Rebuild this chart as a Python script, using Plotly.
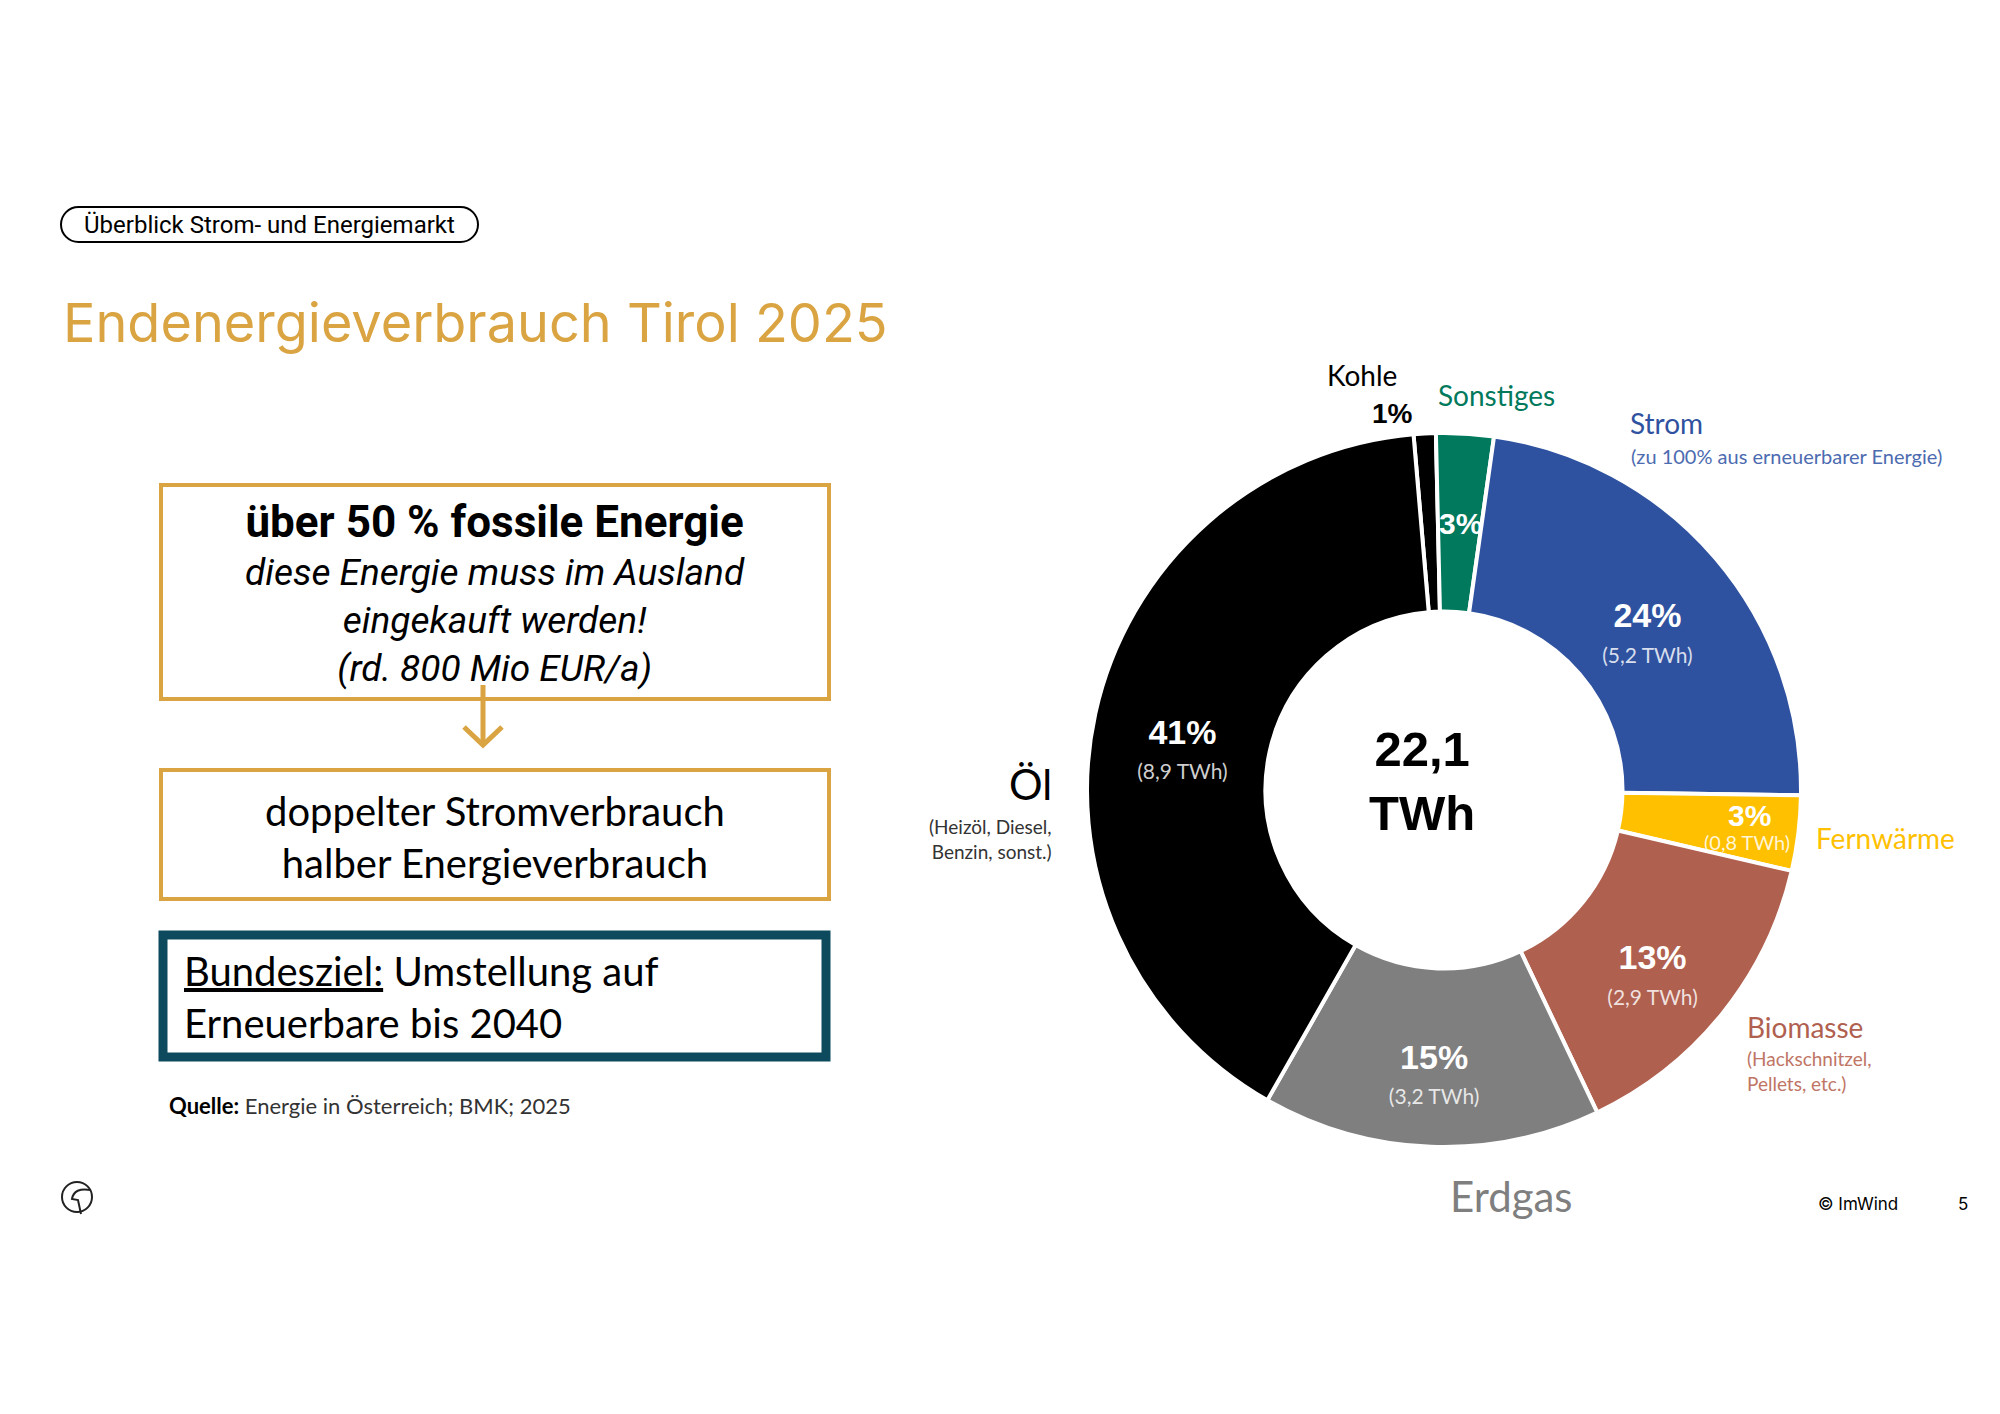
import plotly.graph_objects as go

# Endenergieverbrauch Tirol 2025
labels = ["Kohle", "Sonstiges", "Strom", "Fernwärme", "Biomasse", "Erdgas", "Öl"]
anteil = [1, 3, 24, 3, 13, 15, 41]                      # beschriftete Prozentwerte
segment = [1.0, 2.6, 23.0, 3.4, 14.3, 15.3, 40.4]       # Segmentgrößen wie gezeichnet
twh = [None, None, 5.2, 0.8, 2.9, 3.2, 8.9]
farben = ["#000000", "#00795C", "#2F52A0", "#FFC000", "#B0604F", "#7F7F7F", "#000000"]
gesamt_twh = 22.1

W, H = 2000, 1414
OFF = 8  # Seitenrand des Browsers
GOLD = "#D9A441"
TEAL = "#0D4A5E"


def px(x):
    return (x - OFF) / W


def py(y):
    return 1 - (y - OFF) / H


def de(v):
    return f"{v:.1f}".replace(".", ",")


# Texte in den Segmenten (schmale Segmente bekommen eigene Beschriftung)
# die leere erste Zeile schiebt den Textblock etwas nach unten
schmal = ["Kohle", "Sonstiges", "Fernwärme"]
seg_text = []
for name, p, t in zip(labels, anteil, twh):
    if name in schmal:
        seg_text.append("")
    else:
        seg_text.append(f"<span style='font-size:30px'>&nbsp;</span><br>"
                        f"<span style='font-size:34px'><b>{p}%</b></span><br>"
                        f"<span style='font-size:21px;font-family:Lato;"
                        f"color:rgba(255,255,255,0.82)'>({de(t)} TWh)</span>")

fig = go.Figure()
fig.add_trace(go.Pie(
    labels=labels, values=segment, text=seg_text, textinfo="text",
    textposition="inside", insidetextorientation="horizontal",
    textfont=dict(family="Liberation Sans", size=27, color="white"),
    marker=dict(colors=farben, line=dict(color="white", width=4)),
    hole=0.5, sort=False, direction="clockwise", rotation=-4.9,
    domain=dict(x=[px(1444 - 357), px(1444 + 357)], y=[py(790 + 357), py(790 - 357)]),
    showlegend=False, hoverinfo="label",
))

ann = []


def txt(x, y, s, size, color="black", family="Lato", xanchor="center", align="center"):
    ann.append(dict(x=px(x), y=py(y), xref="paper", yref="paper", text=s, showarrow=False,
                    xanchor=xanchor, yanchor="middle", align=align,
                    font=dict(family=family, size=size, color=color)))


# Kopfzeile und Titel
txt(269, 225, "Überblick Strom- und Energiemarkt", 24, family="Roboto")
txt(61, 323, "Endenergieverbrauch Tirol 2025", 54, color="#D9A441", family="Inter", xanchor="left")

# linke Textboxen
txt(495, 593, "<span style='font-size:44px'><b>über 50 % fossile Energie</b></span><br>"
    "<i>diese Energie muss im Ausland<br>eingekauft werden!<br>(rd. 800 Mio EUR/a)</i>",
    37, family="Roboto")
txt(495, 837, "doppelter Stromverbrauch<br>halber Energieverbrauch", 40)
txt(182, 997, "<span style='text-decoration:underline'>Bundesziel:</span> Umstellung auf<br>"
    "Erneuerbare bis 2040", 40, xanchor="left", align="left")
txt(167, 1105, "<b>Quelle:</b> <span style='color:#333'>Energie in Österreich; BMK; 2025</span>", 22,
    xanchor="left", align="left")

# Beschriftungen am Ring
txt(1422, 781, f"<b>{de(gesamt_twh)}<br>TWh</b>", 49, family="Liberation Sans")
txt(1362, 375, labels[0], 28)
txt(1392, 413, f"<b>{anteil[0]}%</b>", 28, family="Liberation Sans")
txt(1496, 395, labels[1], 28, color=farben[1])
txt(1460, 523, f"<b>{anteil[1]}%</b>", 30, color="white", family="Liberation Sans")
txt(1628, 423, labels[2], 28, color=farben[2], xanchor="left", align="left")
txt(1629, 456, "(zu 100% aus erneuerbarer Energie)", 20, color="#4C6BB0", xanchor="left", align="left")
txt(1749, 815, f"<b>{anteil[3]}%</b>", 30, color="white", family="Liberation Sans")
txt(1747, 842, f"({de(twh[3])} TWh)", 20, color="rgba(255,255,255,0.85)")
txt(1814, 838, labels[3], 28, color=farben[3], xanchor="left", align="left")
txt(1745, 1027, labels[4], 28, color=farben[4], xanchor="left", align="left")
txt(1745, 1071, "(Hackschnitzel,<br>Pellets, etc.)", 19, color="#C07565", xanchor="left", align="left")
txt(1511, 1196, labels[5], 42, color=farben[5])
txt(1054, 784, labels[6], 42, xanchor="right", align="right")
txt(1054, 839, "(Heizöl, Diesel,<br>Benzin, sonst.)", 19, color="#333333", xanchor="right", align="right")

# Fußzeile
txt(1816, 1204, "© ImWind", 17, family="Inter", xanchor="left")
txt(1963, 1204, "5", 17, family="Inter")

shapes = []


def rect(x0, y0, x1, y1, color, width):
    shapes.append(dict(type="rect", xref="paper", yref="paper", x0=px(x0), x1=px(x1),
                       y0=py(y1), y1=py(y0), line=dict(color=color, width=width)))


rect(161, 485, 829, 699, GOLD, 4)
rect(161, 770, 829, 899, GOLD, 4)
rect(163, 935, 826, 1057, TEAL, 9)

# Pfeil zwischen den Boxen
shapes.append(dict(type="line", xref="paper", yref="paper", x0=px(483), x1=px(483),
                   y0=py(685), y1=py(744), line=dict(color=GOLD, width=5)))
shapes.append(dict(type="path", xref="paper", yref="paper",
                   path=f"M {px(464)},{py(727)} L {px(483)},{py(745)} L {px(502)},{py(727)}",
                   line=dict(color=GOLD, width=5)))

# abgerundeter Rahmen um die Kopfzeile
r, k = 17.5, 0.5523
x0, x1, y0, y1 = 61, 478, 207, 242


def P(x, y):
    return f"{px(x)},{py(y)}"


pill = (f"M {P(x0 + r, y0)} L {P(x1 - r, y0)} "
        f"C {P(x1 - r + k * r, y0)} {P(x1, y0 + r - k * r)} {P(x1, y0 + r)} "
        f"C {P(x1, y0 + r + k * r)} {P(x1 - r + k * r, y1)} {P(x1 - r, y1)} "
        f"L {P(x0 + r, y1)} "
        f"C {P(x0 + r - k * r, y1)} {P(x0, y0 + r + k * r)} {P(x0, y0 + r)} "
        f"C {P(x0, y0 + r - k * r)} {P(x0 + r - k * r, y0)} {P(x0 + r, y0)} Z")
shapes.append(dict(type="path", xref="paper", yref="paper", path=pill,
                   line=dict(color="black", width=2)))

# kleines Logo links unten
shapes.append(dict(type="circle", xref="paper", yref="paper", x0=px(62), x1=px(92),
                   y0=py(1212), y1=py(1182), line=dict(color="#222", width=2)))
shapes.append(dict(type="path", xref="paper", yref="paper",
                   path=f"M {P(91, 1190)} Q {P(74, 1187)} {P(72, 1199)} L {P(78, 1200)} L {P(81, 1214)}",
                   line=dict(color="#222", width=2)))

fig.update_layout(
    width=W, height=H, margin=dict(l=0, r=0, t=0, b=0),
    paper_bgcolor="white", plot_bgcolor="white",
    annotations=ann, shapes=shapes,
    uniformtext=dict(minsize=27, mode="show"),
)

fig.write_html("out.html")
